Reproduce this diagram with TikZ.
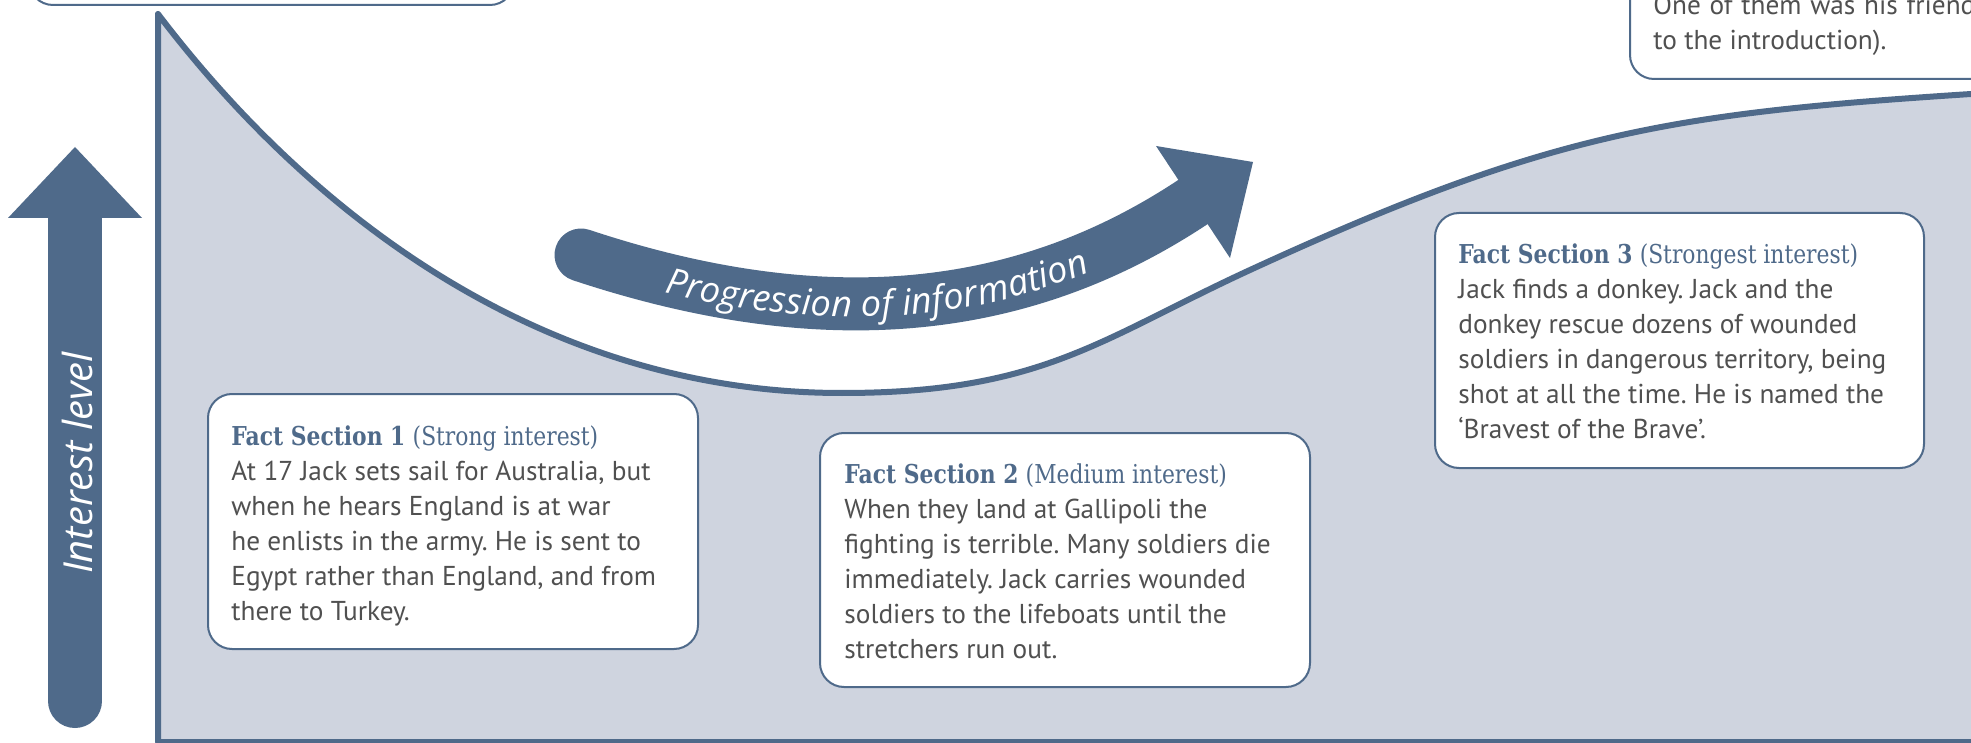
\documentclass[tikz,border=0pt]{standalone}
\usepackage{fontspec}
\setmainfont{PT Sans}
\newfontfamily\slabfont[FakeStretch=0.84]{DejaVu Serif}
\newfontfamily\lightfont{Open Sans}
\usetikzlibrary{decorations.text,calc}
\definecolor{ink}{HTML}{4F6A8A}
\definecolor{paleblue}{HTML}{CFD4DF}
\definecolor{bodygray}{HTML}{505050}
\newcommand\facttitle[2]{{\color{ink}\slabfont\fontsize{13pt}{17.5pt}\selectfont\bfseries #1} {\color{ink}\slabfont\fontsize{13pt}{17.5pt}\selectfont (#2)}}
\frenchspacing
\tikzset{
  boxstyle/.style={draw=ink, line width=1pt, fill=white, rounded corners=12pt, inner sep=0pt, anchor=north west},
  bodytext/.style={inner sep=0pt, anchor=north west, align=left, text=bodygray, font=\fontsize{13.65pt}{17.5pt}\selectfont},
  curvestyle/.style={draw=ink, line width=3pt, fill=paleblue, line join=round},
}
\begin{document}
\begin{tikzpicture}[x=0.5pt,y=-0.5pt]
\useasboundingbox (0,0) rectangle (1971,743);
\fill[white] (0,0) rectangle (1971,743);
\clip (0,0) rectangle (1971,743);

% main interest curve area
\draw[curvestyle] (158,742) -- (158,14)
  .. controls (310,214) and (542,393) .. (842,393)
  .. controls (1042,393) and (1100,339) .. (1250,270)
  .. controls (1550,132) and (1671,113.5) .. (1971,94)
  -- (2010,91) -- (2010,742) -- cycle;

% interest level arrow
\draw[ink, line width=27pt, line cap=round] (75,218) -- (75,701);
\fill[ink] (75,147) -- (142,218) -- (8,218) -- cycle;
\node[rotate=90, text=white, font=\lightfont\itshape\fontsize{20pt}{22pt}\selectfont] (ylabel) at (77,463) {Interest level};

% progression arrow
\draw[ink, line width=26.5pt, line cap=round] (581,255) .. controls (831,338) and (1027,312) .. (1193,202);
\fill[ink] (1156,146) -- (1253,162) -- (1230,258) -- cycle;
\path[decorate, decoration={text along path, text align={align=center, right indent=16pt}, raise=-6.5pt, text color=white,
  text={|\lightfont\itshape\fontsize{18pt}{20pt}\selectfont|Progression of information}}]
  (581,255) .. controls (831,338) and (1027,312) .. (1193,202);

% partial boxes at the top
\node[boxstyle, anchor=south west, minimum width=242.5pt, minimum height=100pt] (box0) at (28,6) {};
\node[boxstyle, anchor=south west, minimum width=200pt, minimum height=150pt] (box4) at (1629,80) {};
\node[bodytext] (text4) at ($(box4.south west)+(24,-90)$) {\rule{0pt}{12pt}\makebox[161pt][s]{One of them was his friend}\\
to the introduction).};

% fact boxes
\node[boxstyle, minimum width=245pt, minimum height=127.5pt] (box1) at (207,393) {};
\node[bodytext] (text1) at ($(box1.north west)+(24,28)$) {\rule{0pt}{12pt}\facttitle{Fact Section 1}{Strong interest}\\
At 17 Jack sets sail for Australia, but\\
when he hears England is at war\\
he enlists in the army. He is sent to\\
Egypt rather than England, and from\\
there to Turkey.};

\node[boxstyle, minimum width=245pt, minimum height=127pt] (box2) at (819,432) {};
\node[bodytext] (text2) at ($(box2.north west)+(25,27)$) {\rule{0pt}{12pt}\facttitle{Fact Section 2}{Medium interest}\\
When they land at Gallipoli the\\
fighting is terrible. Many soldiers die\\
immediately. Jack carries wounded\\
soldiers to the lifeboats until the\\
stretchers run out.};

\node[boxstyle, minimum width=244.5pt, minimum height=127.5pt] (box3) at (1434,212) {};
\node[bodytext] (text3) at ($(box3.north west)+(24,27)$) {\rule{0pt}{12pt}\facttitle{Fact Section 3}{Strongest interest}\\
Jack finds a donkey. Jack and the\\
donkey rescue dozens of wounded\\
soldiers in dangerous territory, being\\
shot at all the time. He is named the\\
‘Bravest of the Brave’.};
\end{tikzpicture}
\end{document}
